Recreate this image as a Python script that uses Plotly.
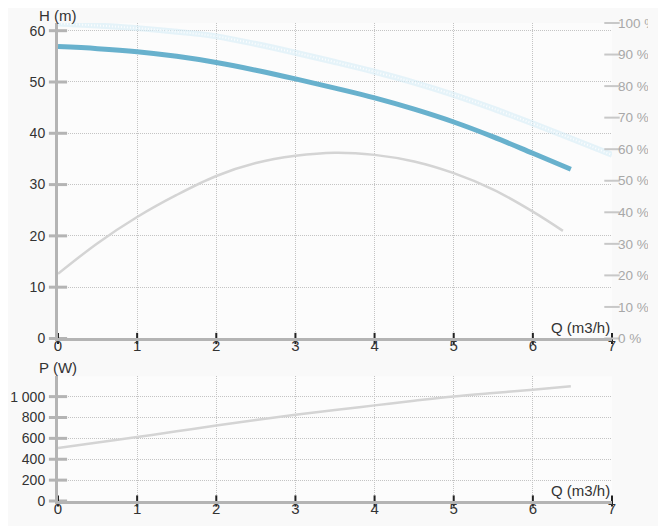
import plotly.graph_objects as go

# ---------------- data ----------------
q_head = [0, 0.5, 1, 1.5, 2, 2.5, 3, 3.5, 4, 4.5, 5, 5.5, 6, 6.48]
head_m = [56.9, 56.5, 55.9, 55.0, 53.8, 52.3, 50.6, 48.8, 46.9, 44.7, 42.2, 39.3, 36.1, 33.0]

q_max = [0, 0.5, 1, 1.5, 2, 2.5, 3, 3.5, 4, 4.5, 5, 5.5, 6, 6.5, 7]
head_max_m = [61.4, 61.0, 60.5, 59.8, 58.9, 57.4, 55.7, 53.9, 52.0, 49.9, 47.5, 44.8, 41.9, 38.9, 35.8]

q_eff = [0, 0.5, 1, 1.5, 2, 2.5, 3, 3.5, 4, 4.5, 5, 5.5, 6, 6.38]
eff_pct = [20.5, 30.2, 38.5, 45.5, 51.5, 55.6, 57.9, 58.9, 58.2, 56.1, 52.4, 47.2, 40.2, 34.1]

q_pow = [0, 0.5, 1, 1.5, 2, 2.5, 3, 3.5, 4, 4.5, 5, 5.5, 6, 6.48]
power_w = [507, 560, 612, 668, 723, 776, 827, 872, 916, 960, 1002, 1035, 1066, 1100]

x_ticks = [0, 1, 2, 3, 4, 5, 6, 7]
h_ticks = [0, 10, 20, 30, 40, 50, 60]
eff_ticks = [0, 10, 20, 30, 40, 50, 60, 70, 80, 90, 100]
eff_labels = [f"{v} %" for v in eff_ticks]
p_ticks = [0, 200, 400, 600, 800, 1000]
p_labels = ["0", "200", "400", "600", "800", "1 000"]

# ---------------- style ----------------
FONT = "Arial, Liberation Sans, sans-serif"
AXIS_GRAY = "#b4b4b4"
GRID = "#c4c4c4"
DARK = "#333333"
BLUE = "#68b1cd"
PAPER = "#f9f9f9"

fig = go.Figure()

# top plot curves
fig.add_trace(go.Scatter(x=q_max, y=head_max_m, mode="lines", xaxis="x", yaxis="y",
                         line=dict(color="rgba(214,236,246,0.6)", width=6, shape="spline"), hoverinfo="skip"))
fig.add_trace(go.Scatter(x=q_max, y=head_max_m, mode="lines", xaxis="x", yaxis="y",
                         line=dict(color="#fbfdfe", width=2, dash="1px,2px", shape="spline"), hoverinfo="skip"))
fig.add_trace(go.Scatter(x=q_eff, y=eff_pct, mode="lines", xaxis="x", yaxis="y2",
                         line=dict(color="#d4d4d4", width=2.5, shape="spline")))
fig.add_trace(go.Scatter(x=q_head, y=head_m, mode="lines", xaxis="x", yaxis="y",
                         line=dict(color=BLUE, width=5, shape="spline")))

# bottom plot curve
fig.add_trace(go.Scatter(x=q_pow, y=power_w, mode="lines", xaxis="x2", yaxis="y3",
                         line=dict(color="#d4d4d4", width=2.5, shape="spline")))

# tick crosses (markers on axes)
fig.add_trace(go.Scatter(x=[0] * len(h_ticks), y=h_ticks, mode="markers", xaxis="x", yaxis="y",
                         marker=dict(symbol="line-ew", size=13, line=dict(color=AXIS_GRAY, width=3)),
                         cliponaxis=False, hoverinfo="skip"))
fig.add_trace(go.Scatter(x=[7] * len(eff_ticks), y=eff_ticks, mode="markers", xaxis="x", yaxis="y2",
                         marker=dict(symbol="line-ew", size=11, line=dict(color="#c8c8c8", width=2)),
                         cliponaxis=False, hoverinfo="skip"))
fig.add_trace(go.Scatter(x=[0] * len(p_ticks), y=p_ticks, mode="markers", xaxis="x2", yaxis="y3",
                         marker=dict(symbol="line-ew", size=13, line=dict(color=AXIS_GRAY, width=3)),
                         cliponaxis=False, hoverinfo="skip"))
fig.add_trace(go.Scatter(x=x_ticks, y=[0] * len(x_ticks), mode="markers", xaxis="x", yaxis="y",
                         marker=dict(symbol="line-ns", size=8, line=dict(color="#222", width=2)),
                         cliponaxis=False, hoverinfo="skip"))
fig.add_trace(go.Scatter(x=x_ticks, y=[0] * len(x_ticks), mode="markers", xaxis="x2", yaxis="y3",
                         marker=dict(symbol="line-ns", size=8, line=dict(color="#222", width=2)),
                         cliponaxis=False, hoverinfo="skip"))

xaxis_common = dict(range=[0, 7], tickvals=x_ticks, showgrid=True, gridcolor=GRID, griddash="1px,1px",
                    gridwidth=1, zeroline=False, showline=True, linecolor=AXIS_GRAY, linewidth=3,
                    ticks="", tickfont=dict(family=FONT, size=15, color=DARK), ticklabelstandoff=-8,
                    automargin=False)
yaxis_common = dict(showgrid=True, gridcolor=GRID, griddash="1px,1px", gridwidth=1, zeroline=False,
                    showline=True, linecolor=AXIS_GRAY, linewidth=3, ticks="",
                    tickfont=dict(family=FONT, size=14, color=DARK), ticklabelstandoff=7,
                    automargin=False)

fig.update_layout(
    width=658, height=518,
    margin=dict(l=50, r=54, t=15, b=25),
    paper_bgcolor=PAPER,
    plot_bgcolor="#fcfcfc",
    showlegend=False,
    font=dict(family=FONT, color=DARK),
    xaxis=dict(anchor="y", domain=[0, 1], **xaxis_common),
    yaxis=dict(anchor="x", domain=[0.340, 1], range=[0, 61.5], tickvals=h_ticks, **yaxis_common),
    yaxis2=dict(anchor="x", overlaying="y", side="right", range=[0, 100], tickvals=eff_ticks,
                ticktext=eff_labels, showgrid=False, zeroline=False, showline=False, ticks="",
                tickfont=dict(family=FONT, size=13.5, color="#a8a8a8"), ticklabelstandoff=5,
                automargin=False),
    xaxis2=dict(anchor="y3", domain=[0, 1], **xaxis_common),
    yaxis3=dict(anchor="x2", domain=[0, 0.261], range=[0, 1195], tickvals=p_ticks, ticktext=p_labels,
                **yaxis_common),
    shapes=[
        dict(type="rect", xref="paper", yref="paper", x0=1.065, x1=1.2, y0=-0.1, y1=1.1,
             fillcolor=PAPER, line=dict(width=0), layer="above"),
    ],
    annotations=[
        dict(text="H (m)", xref="x domain", yref="y domain", x=0, y=1, xanchor="center", yanchor="bottom",
             showarrow=False, font=dict(family=FONT, size=15, color=DARK), yshift=-3),
        dict(text="Q (m3/h)", xref="x domain", yref="y domain", x=1, y=0, xanchor="right", yanchor="bottom",
             showarrow=False, font=dict(family=FONT, size=15, color=DARK), yshift=0),
        dict(text="P (W)", xref="x2 domain", yref="y3 domain", x=0, y=1, xanchor="center", yanchor="bottom",
             showarrow=False, font=dict(family=FONT, size=15, color=DARK), yshift=-2),
        dict(text="Q (m3/h)", xref="x2 domain", yref="y3 domain", x=1, y=0, xanchor="right", yanchor="bottom",
             showarrow=False, font=dict(family=FONT, size=15, color=DARK), yshift=0),
    ],
)

fig.write_html("out.html")
